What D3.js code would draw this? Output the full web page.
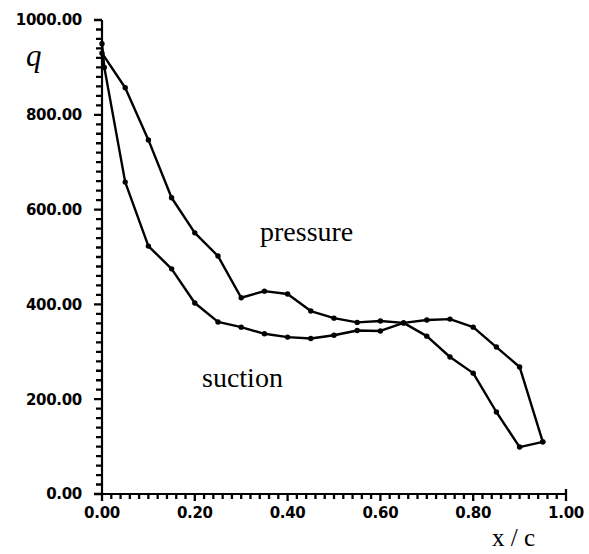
<!DOCTYPE html>
<html>
<head>
<meta charset="utf-8">
<script src="https://cdn.jsdelivr.net/npm/d3@7"></script>
<style>
  body { margin: 0; background: #fff; }
  svg { display: block; }
</style>
</head>
<body>
<svg width="589" height="554"></svg>
<script>

// values
var pressureX = [0, 0.05, 0.10, 0.15, 0.20, 0.25, 0.30, 0.35, 0.40, 0.45, 0.50, 0.55, 0.60, 0.65, 0.70, 0.75, 0.80, 0.85, 0.90, 0.95];
var pressureQ = [930, 857, 747, 625, 551, 502, 414, 428, 422, 386, 371, 362, 365, 361, 333, 289, 255, 173, 99, 110];

var suctionX = [0, 0.005, 0.05, 0.10, 0.15, 0.20, 0.25, 0.30, 0.35, 0.40, 0.45, 0.50, 0.55, 0.60, 0.65, 0.70, 0.75, 0.80, 0.85, 0.90, 0.95];
var suctionQ = [950, 900, 658, 523, 475, 403, 363, 352, 338, 331, 328, 335, 345, 344, 361, 367, 369, 352, 310, 268, 110];

var xTicks = [0, 0.2, 0.4, 0.6, 0.8, 1.0];
var yTicks = [0, 200, 400, 600, 800, 1000];

var svg = d3.select("svg");

var x = d3.scaleLinear().domain([0, 1]).range([102, 566]);
var y = d3.scaleLinear().domain([0, 1000]).range([494, 20]);

var tickFont = "'DejaVu Sans', sans-serif";
var serif = "'Liberation Serif', 'Times New Roman', serif";

// minor ticks every 20 on q, every 0.02 on x/c
var yMinor = d3.range(0, 1001, 20);
var xMinor = d3.range(0, 51).map(function (i) { return i / 50; });

var yTickPath = yMinor.map(function (d) {
    var len = (Math.round(d) % 200 === 0) ? 8 : 6;
    return "M" + x(0) + "," + y(d) + "h" + (-len);
}).join("");

var xTickPath = xMinor.map(function (d, i) {
    var len = (i % 10 === 0) ? 7 : 5;
    return "M" + x(d) + "," + y(0) + "v" + len;
}).join("");

svg.append("path")
    .attr("d", yTickPath)
    .attr("fill", "none")
    .attr("stroke", "#000")
    .attr("stroke-width", 2.3);

svg.append("path")
    .attr("d", xTickPath + "M" + x(1) + "," + y(0) + "v-5")    // right end pokes up too
    .attr("fill", "none")
    .attr("stroke", "#000")
    .attr("stroke-width", 2.3);

// axis lines
svg.append("path")
    .attr("d", "M" + x(0) + "," + y(1000) + "V" + y(0) + "M" + (x(0) - 8) + "," + y(0) + "H" + x(1))
    .attr("fill", "none")
    .attr("stroke", "#000")
    .attr("stroke-width", 2.2);

// tick labels
svg.selectAll(".ylab")
    .data(yTicks)
    .enter()
    .append("text")
    .attr("class", "ylab")
    .attr("x", 82)
    .attr("y", function (d) { return y(d); })
    .attr("dy", "0.36em")
    .attr("text-anchor", "end")
    .style("font-family", tickFont)
    .style("font-weight", "bold")
    .style("font-size", "15px")
    .style("letter-spacing", "-0.3px")
    .text(function (d) { return d.toFixed(2); });

svg.selectAll(".xlab")
    .data(xTicks)
    .enter()
    .append("text")
    .attr("class", "xlab")
    .attr("x", function (d) { return x(d); })
    .attr("y", 518)
    .attr("text-anchor", "middle")
    .style("font-family", tickFont)
    .style("font-weight", "bold")
    .style("font-size", "15px")
    .style("letter-spacing", "-0.3px")
    .text(function (d) { return d.toFixed(2); });

// curves
var line = d3.line()
    .x(function (d) { return x(d[0]); })
    .y(function (d) { return y(d[1]); });

var series = [
    d3.zip(pressureX, pressureQ),
    d3.zip(suctionX, suctionQ)
];

series.forEach(function (pts) {
    svg.append("path")
        .datum(pts)
        .attr("fill", "none")
        .attr("stroke", "#000")
        .attr("stroke-width", 2.4)
        .attr("stroke-linejoin", "round")
        .attr("d", line);

    svg.append("g")
        .selectAll("circle")
        .data(pts)
        .enter()
        .append("circle")
        .attr("cx", function (d) { return x(d[0]); })
        .attr("cy", function (d) { return y(d[1]); })
        .attr("r", 2.7)
        .attr("fill", "#000");
});

// labels
svg.append("text")
    .attr("x", 26)
    .attr("y", 66)
    .style("font-family", serif)
    .style("font-style", "italic")
    .style("font-size", "31px")
    .text("q");

svg.append("text")
    .attr("x", 492)
    .attr("y", 546)
    .style("font-family", serif)
    .style("font-size", "25px")
    .text("x / c");

svg.append("text")
    .attr("x", 260)
    .attr("y", 241)
    .style("font-family", serif)
    .style("font-size", "28px")
    .text("pressure");

svg.append("text")
    .attr("x", 202)
    .attr("y", 387)
    .style("font-family", serif)
    .style("font-size", "28px")
    .text("suction");

</script>
</body>
</html>
